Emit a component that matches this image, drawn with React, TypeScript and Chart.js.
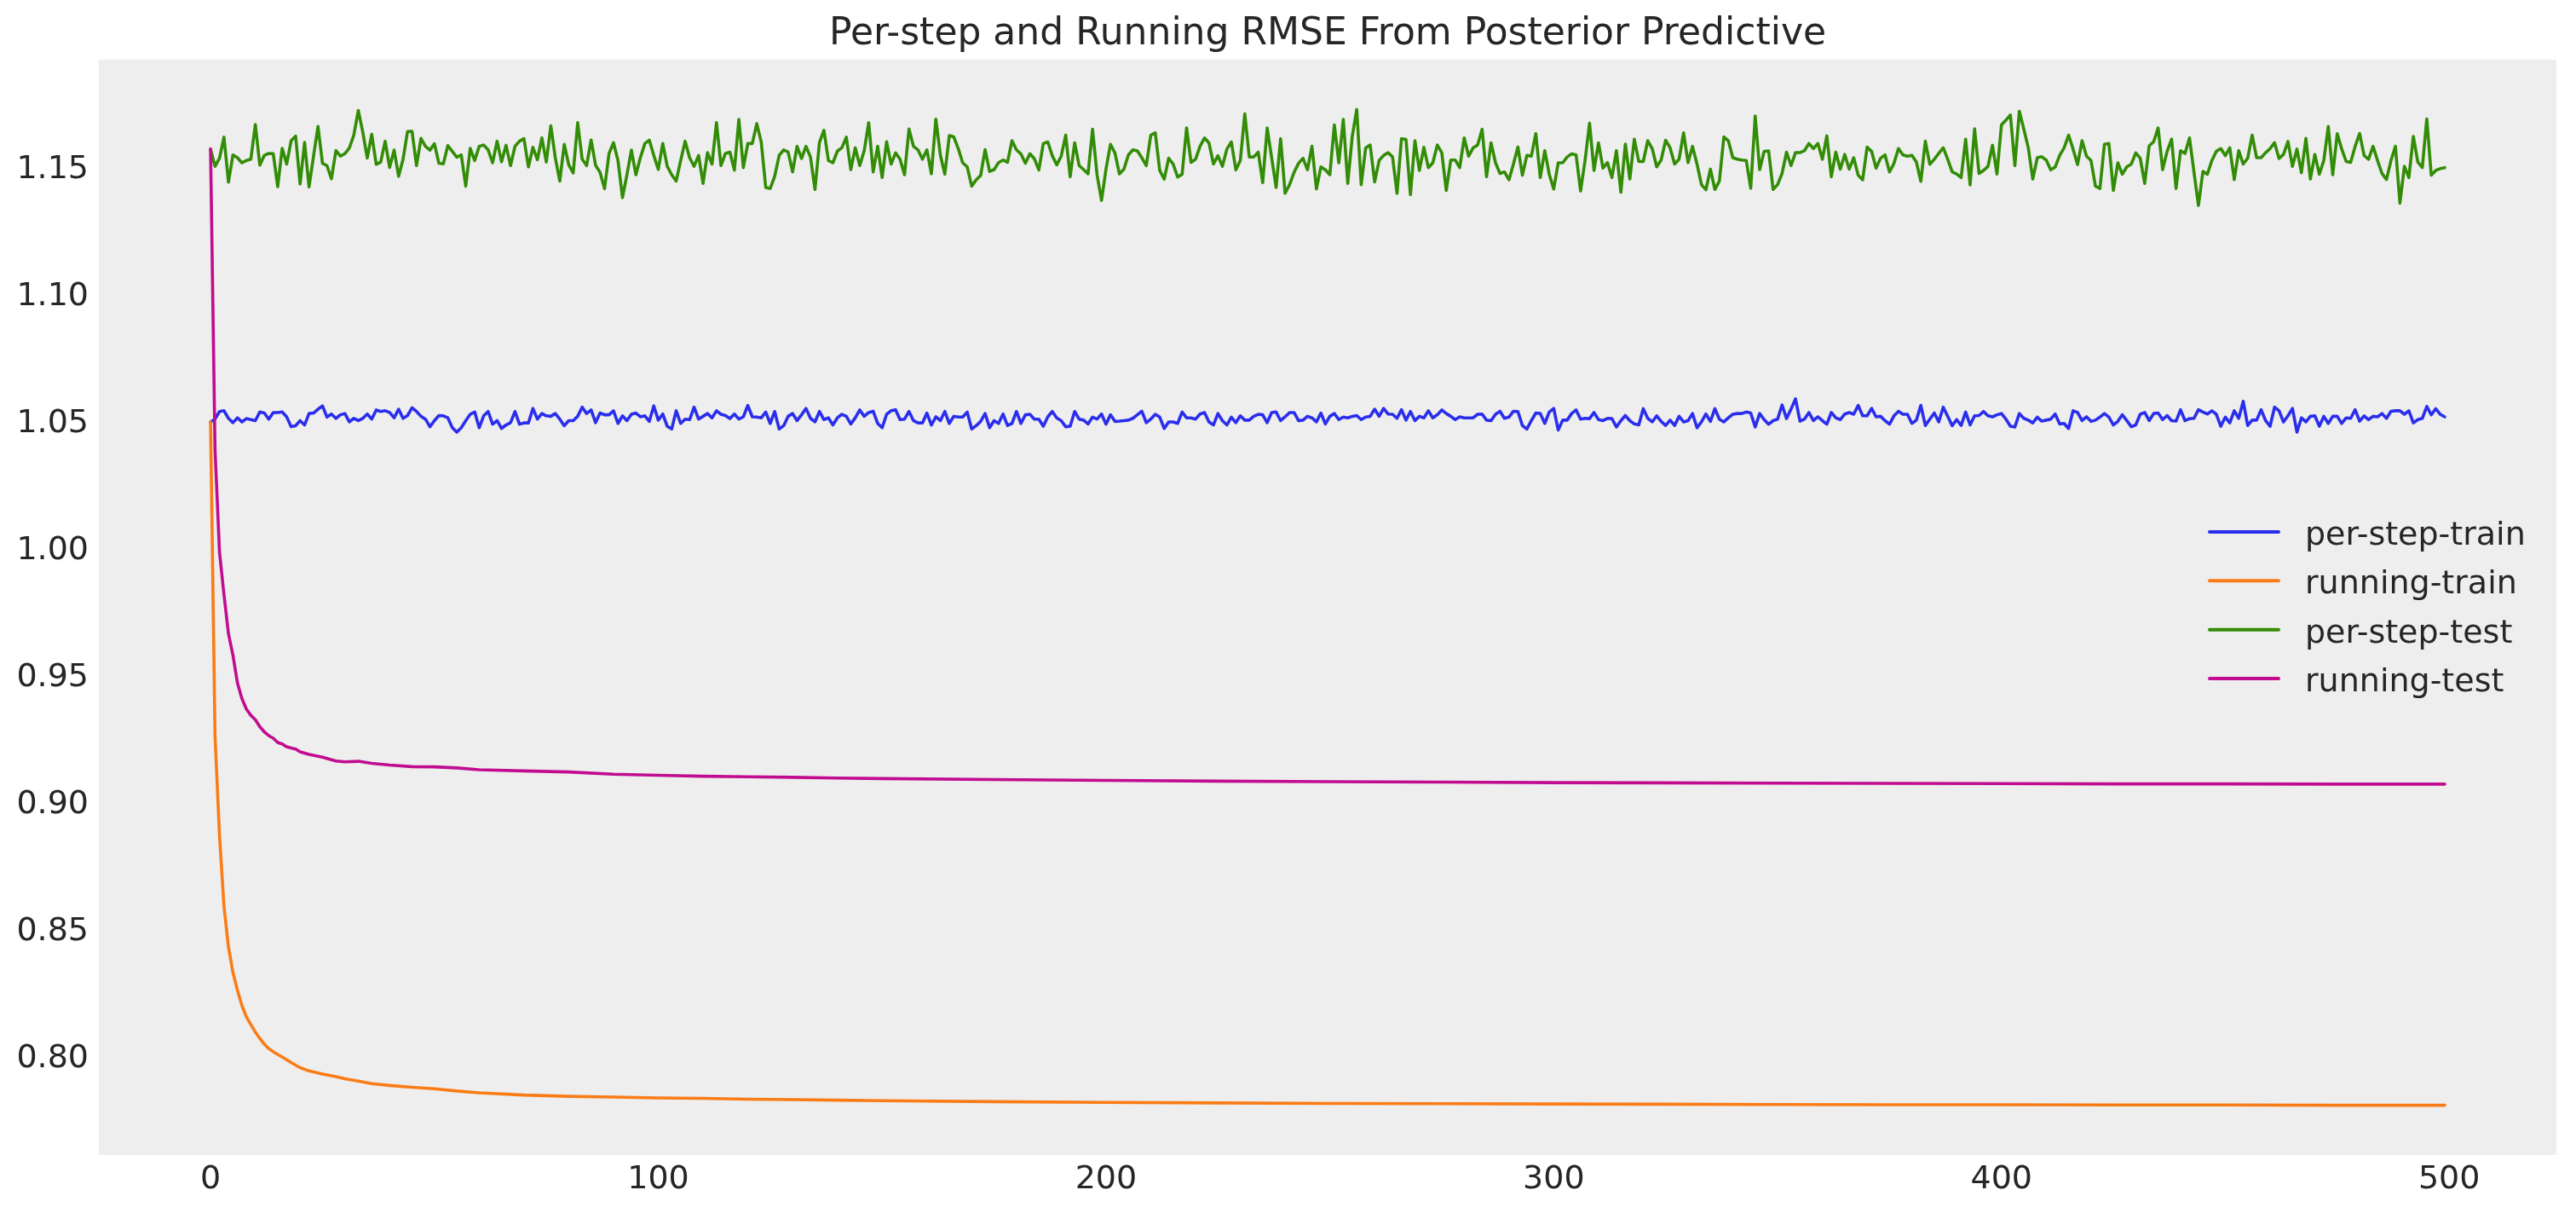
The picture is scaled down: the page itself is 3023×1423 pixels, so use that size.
import React, { useEffect, useRef } from "react";
import { Chart, registerables } from "chart.js";

Chart.register(...registerables);

const TITLE = "Per-step and Running RMSE From Posterior Predictive";
const SERIES_LABELS = ["per-step-train", "running-train", "per-step-test", "running-test"];
const SERIES_COLORS = ["#2a2eec", "#fa7c17", "#328c06", "#c10c90"];
const X_TICKS = [0, 100, 200, 300, 400, 500];
const Y_TICKS = [0.8, 0.85, 0.9, 0.95, 1.0, 1.05, 1.1, 1.15];
const X_MIN = -24.95;
const X_MAX = 523.95;
const Y_MIN = 0.7621;
const Y_MAX = 1.1933;
const TEXT_COLOR = "#262626";
const FONT = "DejaVu Sans";

// step index 0..499 (category positions)
const steps: number[] = Array.from({ length: 500 }, (_, i) => i);

const perStepTrain: number[] = [
  1.0507, 1.0518, 1.0548, 1.0551, 1.0521, 1.0504, 1.0523, 1.0507, 1.0520, 1.0516,
  1.0512, 1.0546, 1.0542, 1.0518, 1.0544, 1.0544, 1.0546, 1.0527, 1.0488, 1.0492,
  1.0512, 1.0495, 1.0540, 1.0542, 1.0557, 1.0570, 1.0526, 1.0538, 1.0521, 1.0535,
  1.0540, 1.0507, 1.0521, 1.0512, 1.0521, 1.0538, 1.0518, 1.0554, 1.0548, 1.0551,
  1.0544, 1.0523, 1.0557, 1.0521, 1.0532, 1.0563, 1.0548, 1.0529, 1.0518, 1.0488,
  1.0512, 1.0532, 1.0531, 1.0523, 1.0484, 1.0467, 1.0484, 1.0512, 1.0537, 1.0546,
  1.0484, 1.0531, 1.0548, 1.0498, 1.0512, 1.0481, 1.0495, 1.0504, 1.0548, 1.0498,
  1.0503, 1.0503, 1.0560, 1.0518, 1.0540, 1.0531, 1.0529, 1.0540, 1.0518, 1.0492,
  1.0512, 1.0512, 1.0529, 1.0565, 1.0540, 1.0554, 1.0504, 1.0542, 1.0535, 1.0535,
  1.0551, 1.0501, 1.0531, 1.0512, 1.0537, 1.0542, 1.0527, 1.0531, 1.0509, 1.0570,
  1.0514, 1.0538, 1.0490, 1.0479, 1.0551, 1.0501, 1.0518, 1.0516, 1.0565, 1.0518,
  1.0529, 1.0540, 1.0523, 1.0551, 1.0537, 1.0532, 1.0520, 1.0538, 1.0518, 1.0527,
  1.0572, 1.0527, 1.0526, 1.0523, 1.0546, 1.0501, 1.0548, 1.0479, 1.0492, 1.0529,
  1.0540, 1.0512, 1.0535, 1.0560, 1.0521, 1.0507, 1.0548, 1.0516, 1.0523, 1.0495,
  1.0523, 1.0537, 1.0529, 1.0499, 1.0523, 1.0554, 1.0529, 1.0544, 1.0549, 1.0501,
  1.0484, 1.0537, 1.0551, 1.0555, 1.0516, 1.0518, 1.0548, 1.0512, 1.0503, 1.0503,
  1.0542, 1.0495, 1.0527, 1.0512, 1.0548, 1.0501, 1.0529, 1.0526, 1.0526, 1.0546,
  1.0479, 1.0492, 1.0509, 1.0540, 1.0484, 1.0512, 1.0501, 1.0538, 1.0493, 1.0501,
  1.0548, 1.0501, 1.0535, 1.0537, 1.0518, 1.0518, 1.0490, 1.0527, 1.0548, 1.0523,
  1.0512, 1.0488, 1.0490, 1.0548, 1.0518, 1.0514, 1.0499, 1.0526, 1.0518, 1.0538,
  1.0498, 1.0535, 1.0509, 1.0510, 1.0512, 1.0514, 1.0521, 1.0535, 1.0549, 1.0504,
  1.0518, 1.0537, 1.0526, 1.0481, 1.0507, 1.0507, 1.0501, 1.0546, 1.0523, 1.0523,
  1.0518, 1.0538, 1.0544, 1.0507, 1.0495, 1.0540, 1.0512, 1.0495, 1.0526, 1.0504,
  1.0531, 1.0514, 1.0514, 1.0529, 1.0537, 1.0535, 1.0504, 1.0544, 1.0546, 1.0512,
  1.0527, 1.0544, 1.0544, 1.0512, 1.0514, 1.0529, 1.0523, 1.0507, 1.0542, 1.0499,
  1.0529, 1.0540, 1.0516, 1.0526, 1.0523, 1.0529, 1.0532, 1.0516, 1.0526, 1.0529,
  1.0557, 1.0529, 1.0560, 1.0538, 1.0537, 1.0521, 1.0555, 1.0514, 1.0548, 1.0512,
  1.0529, 1.0523, 1.0551, 1.0523, 1.0535, 1.0554, 1.0540, 1.0529, 1.0516, 1.0527,
  1.0523, 1.0523, 1.0523, 1.0537, 1.0538, 1.0514, 1.0512, 1.0537, 1.0549, 1.0521,
  1.0526, 1.0549, 1.0548, 1.0493, 1.0479, 1.0512, 1.0542, 1.0540, 1.0501, 1.0546,
  1.0560, 1.0475, 1.0514, 1.0514, 1.0540, 1.0554, 1.0518, 1.0521, 1.0520, 1.0544,
  1.0516, 1.0512, 1.0521, 1.0520, 1.0487, 1.0512, 1.0532, 1.0512, 1.0499, 1.0495,
  1.0559, 1.0521, 1.0507, 1.0531, 1.0509, 1.0493, 1.0514, 1.0493, 1.0529, 1.0507,
  1.0512, 1.0540, 1.0484, 1.0507, 1.0538, 1.0509, 1.0559, 1.0518, 1.0507, 1.0523,
  1.0537, 1.0540, 1.0540, 1.0546, 1.0542, 1.0487, 1.0540, 1.0516, 1.0498, 1.0512,
  1.0518, 1.0574, 1.0520, 1.0557, 1.0598, 1.0510, 1.0518, 1.0544, 1.0512, 1.0527,
  1.0512, 1.0498, 1.0544, 1.0523, 1.0516, 1.0538, 1.0544, 1.0537, 1.0572, 1.0531,
  1.0531, 1.0560, 1.0527, 1.0529, 1.0512, 1.0498, 1.0531, 1.0549, 1.0537, 1.0537,
  1.0501, 1.0514, 1.0572, 1.0493, 1.0518, 1.0542, 1.0507, 1.0565, 1.0529, 1.0492,
  1.0516, 1.0493, 1.0546, 1.0495, 1.0531, 1.0532, 1.0548, 1.0531, 1.0527, 1.0535,
  1.0540, 1.0518, 1.0490, 1.0487, 1.0540, 1.0521, 1.0514, 1.0503, 1.0526, 1.0510,
  1.0514, 1.0518, 1.0538, 1.0499, 1.0501, 1.0481, 1.0551, 1.0544, 1.0512, 1.0527,
  1.0509, 1.0514, 1.0526, 1.0540, 1.0526, 1.0495, 1.0509, 1.0535, 1.0512, 1.0488,
  1.0495, 1.0537, 1.0544, 1.0512, 1.0540, 1.0542, 1.0516, 1.0532, 1.0512, 1.0510,
  1.0555, 1.0512, 1.0520, 1.0521, 1.0555, 1.0546, 1.0538, 1.0551, 1.0537, 1.0490,
  1.0526, 1.0503, 1.0551, 1.0521, 1.0588, 1.0493, 1.0514, 1.0514, 1.0555, 1.0512,
  1.0490, 1.0565, 1.0551, 1.0507, 1.0531, 1.0560, 1.0467, 1.0523, 1.0507, 1.0529,
  1.0531, 1.0490, 1.0529, 1.0501, 1.0529, 1.0529, 1.0501, 1.0523, 1.0521, 1.0555,
  1.0510, 1.0531, 1.0516, 1.0529, 1.0527, 1.0540, 1.0521, 1.0549, 1.0551, 1.0551,
  1.0537, 1.0551, 1.0503, 1.0516, 1.0521, 1.0568, 1.0535, 1.0559, 1.0537, 1.0527,
];

const perStepTest: number[] = [
  1.1581, 1.1513, 1.1545, 1.1628, 1.1451, 1.1558, 1.1547, 1.1527, 1.1536, 1.1541,
  1.1678, 1.1518, 1.1556, 1.1564, 1.1563, 1.1433, 1.1584, 1.1522, 1.1614, 1.1632,
  1.1444, 1.1607, 1.1432, 1.1553, 1.1670, 1.1525, 1.1516, 1.1464, 1.1575, 1.1553,
  1.1563, 1.1585, 1.1636, 1.1733, 1.1648, 1.1546, 1.1639, 1.1521, 1.1530, 1.1612,
  1.1509, 1.1577, 1.1474, 1.1541, 1.1650, 1.1651, 1.1516, 1.1623, 1.1592, 1.1577,
  1.1602, 1.1525, 1.1523, 1.1595, 1.1572, 1.1549, 1.1558, 1.1435, 1.1584, 1.1536,
  1.1592, 1.1597, 1.1578, 1.1527, 1.1612, 1.1531, 1.1596, 1.1516, 1.1592, 1.1612,
  1.1622, 1.1511, 1.1588, 1.1539, 1.1625, 1.1530, 1.1673, 1.1547, 1.1455, 1.1600,
  1.1519, 1.1487, 1.1685, 1.1541, 1.1516, 1.1617, 1.1517, 1.1489, 1.1425, 1.1564,
  1.1606, 1.1536, 1.1390, 1.1480, 1.1577, 1.1480, 1.1547, 1.1603, 1.1616, 1.1556,
  1.1501, 1.1603, 1.1513, 1.1480, 1.1455, 1.1536, 1.1612, 1.1547, 1.1513, 1.1556,
  1.1446, 1.1567, 1.1522, 1.1685, 1.1516, 1.1564, 1.1569, 1.1498, 1.1698, 1.1508,
  1.1603, 1.1603, 1.1681, 1.1609, 1.1430, 1.1426, 1.1474, 1.1556, 1.1578, 1.1569,
  1.1491, 1.1592, 1.1544, 1.1592, 1.1549, 1.1422, 1.1607, 1.1655, 1.1536, 1.1527,
  1.1573, 1.1586, 1.1628, 1.1500, 1.1586, 1.1516, 1.1575, 1.1685, 1.1491, 1.1592,
  1.1469, 1.1610, 1.1522, 1.1566, 1.1541, 1.1480, 1.1660, 1.1592, 1.1578, 1.1541,
  1.1578, 1.1484, 1.1699, 1.1558, 1.1482, 1.1634, 1.1629, 1.1583, 1.1527, 1.1511,
  1.1435, 1.1460, 1.1477, 1.1579, 1.1493, 1.1500, 1.1528, 1.1538, 1.1529, 1.1614,
  1.1578, 1.1562, 1.1525, 1.1563, 1.1543, 1.1499, 1.1603, 1.1609, 1.1555, 1.1519,
  1.1553, 1.1636, 1.1472, 1.1606, 1.1516, 1.1500, 1.1484, 1.1659, 1.1480, 1.1379,
  1.1502, 1.1600, 1.1566, 1.1483, 1.1502, 1.1558, 1.1578, 1.1574, 1.1547, 1.1516,
  1.1636, 1.1645, 1.1497, 1.1463, 1.1545, 1.1522, 1.1471, 1.1482, 1.1664, 1.1529,
  1.1541, 1.1592, 1.1625, 1.1605, 1.1522, 1.1555, 1.1513, 1.1581, 1.1609, 1.1499,
  1.1536, 1.1720, 1.1550, 1.1550, 1.1569, 1.1449, 1.1664, 1.1547, 1.1430, 1.1622,
  1.1407, 1.1441, 1.1489, 1.1525, 1.1545, 1.1500, 1.1592, 1.1424, 1.1511, 1.1499,
  1.1480, 1.1676, 1.1527, 1.1698, 1.1446, 1.1631, 1.1737, 1.1441, 1.1586, 1.1597,
  1.1452, 1.1536, 1.1556, 1.1567, 1.1550, 1.1407, 1.1622, 1.1619, 1.1402, 1.1614,
  1.1497, 1.1588, 1.1508, 1.1527, 1.1597, 1.1567, 1.1418, 1.1538, 1.1538, 1.1508,
  1.1625, 1.1553, 1.1586, 1.1597, 1.1659, 1.1472, 1.1606, 1.1527, 1.1485, 1.1491,
  1.1460, 1.1522, 1.1589, 1.1478, 1.1556, 1.1553, 1.1642, 1.1469, 1.1575, 1.1482,
  1.1424, 1.1527, 1.1527, 1.1550, 1.1562, 1.1558, 1.1416, 1.1536, 1.1683, 1.1497,
  1.1606, 1.1506, 1.1528, 1.1469, 1.1575, 1.1411, 1.1601, 1.1463, 1.1620, 1.1532,
  1.1532, 1.1614, 1.1583, 1.1511, 1.1538, 1.1616, 1.1586, 1.1522, 1.1541, 1.1645,
  1.1528, 1.1592, 1.1522, 1.1441, 1.1421, 1.1502, 1.1422, 1.1455, 1.1629, 1.1614,
  1.1547, 1.1541, 1.1538, 1.1536, 1.1427, 1.1711, 1.1500, 1.1572, 1.1574, 1.1422,
  1.1441, 1.1485, 1.1569, 1.1516, 1.1567, 1.1567, 1.1575, 1.1603, 1.1583, 1.1603,
  1.1541, 1.1633, 1.1472, 1.1569, 1.1502, 1.1560, 1.1502, 1.1547, 1.1478, 1.1460,
  1.1589, 1.1572, 1.1506, 1.1545, 1.1558, 1.1491, 1.1525, 1.1583, 1.1558, 1.1553,
  1.1556, 1.1530, 1.1454, 1.1612, 1.1521, 1.1541, 1.1564, 1.1586, 1.1541, 1.1491,
  1.1483, 1.1469, 1.1620, 1.1440, 1.1661, 1.1485, 1.1497, 1.1513, 1.1596, 1.1483,
  1.1676, 1.1695, 1.1715, 1.1516, 1.1730, 1.1659, 1.1586, 1.1463, 1.1547, 1.1551,
  1.1538, 1.1499, 1.1510, 1.1556, 1.1586, 1.1636, 1.1581, 1.1520, 1.1614, 1.1553,
  1.1536, 1.1435, 1.1426, 1.1600, 1.1603, 1.1418, 1.1527, 1.1482, 1.1511, 1.1522,
  1.1566, 1.1545, 1.1446, 1.1594, 1.1610, 1.1664, 1.1500, 1.1572, 1.1620, 1.1426,
  1.1575, 1.1564, 1.1625, 1.1491, 1.1359, 1.1493, 1.1482, 1.1536, 1.1572, 1.1583,
  1.1555, 1.1586, 1.1461, 1.1575, 1.1522, 1.1545, 1.1636, 1.1547, 1.1547, 1.1567,
  1.1583, 1.1606, 1.1544, 1.1560, 1.1611, 1.1513, 1.1581, 1.1488, 1.1623, 1.1463,
  1.1560, 1.1482, 1.1536, 1.1670, 1.1480, 1.1642, 1.1581, 1.1532, 1.1529, 1.1592,
  1.1642, 1.1556, 1.1541, 1.1592, 1.1536, 1.1485, 1.1461, 1.1536, 1.1592, 1.1368,
  1.1513, 1.1469, 1.1631, 1.1530, 1.1508, 1.1700, 1.1478, 1.1497, 1.1504, 1.1508,
];

// running curves, read at these step indices
const runningSteps: number[] = [
  0, 1, 2, 3, 4, 5, 6, 7, 8, 9, 10, 11, 12, 13, 14, 15, 16, 17, 18, 19, 20, 22, 25, 28, 30,
  33, 36, 40, 45, 50, 55, 60, 70, 80, 90, 100, 110, 120, 130, 140, 150, 175, 200, 225, 250,
  275, 300, 325, 350, 375, 400, 425, 450, 475, 499,
];

const runningTrain: number[] = [
  1.0507, 0.927, 0.888, 0.86, 0.844, 0.834, 0.827, 0.821, 0.8165, 0.8135, 0.8105, 0.808,
  0.8058, 0.804, 0.8028, 0.8017, 0.8007, 0.7996, 0.7985, 0.7975, 0.7965, 0.7952, 0.794,
  0.793, 0.7921, 0.7912, 0.7902, 0.7895, 0.7888, 0.7882, 0.7873, 0.7866, 0.7857, 0.7852,
  0.7849, 0.7846, 0.7844, 0.7841, 0.7839, 0.7837, 0.7835, 0.7831, 0.7828, 0.7826, 0.7824,
  0.7823, 0.7822, 0.7821, 0.782, 0.7819, 0.7819, 0.7818, 0.7818, 0.7817, 0.7817,
];

const runningTest: number[] = [
  1.1581, 1.0398, 0.9994, 0.9827, 0.9673, 0.9589, 0.948, 0.9418, 0.9377, 0.9352, 0.9335,
  0.9307, 0.9287, 0.9272, 0.9262, 0.9245, 0.9239, 0.9228, 0.9223, 0.9219, 0.9208, 0.9198,
  0.9187, 0.9172, 0.9169, 0.9171, 0.9163, 0.9156, 0.915, 0.9149, 0.9145, 0.9138, 0.9133,
  0.9129, 0.912, 0.9116, 0.9112, 0.911, 0.9108, 0.9105, 0.9103, 0.9099, 0.9096, 0.9093,
  0.9091, 0.9089, 0.9087, 0.9086, 0.9085, 0.9084, 0.9083, 0.9082, 0.9082, 0.9081, 0.9081,
];

const toPoints = (xs: number[], ys: number[]) => ys.map((y, i) => ({ x: xs[i], y }));

const bgPlugin = {
  id: "bgPlugin",
  beforeDraw(chart: any) {
    const { ctx, chartArea, width, height } = chart;
    ctx.save();
    ctx.fillStyle = "#ffffff";
    ctx.fillRect(0, 0, width, height);
    ctx.fillStyle = "#eeeeee";
    ctx.fillRect(chartArea.left, chartArea.top, chartArea.right - chartArea.left, chartArea.bottom - chartArea.top);
    ctx.restore();
  },
};

const sideLegendPlugin = {
  id: "sideLegend",
  afterDatasetsDraw(chart: any) {
    const { ctx, chartArea } = chart;
    const cy = (chartArea.top + chartArea.bottom) / 2 - 2.5;
    const x0 = chartArea.right - 407;
    ctx.save();
    chart.data.datasets.forEach((ds: any, k: number) => {
      const y = cy + (k - 1.5) * 57.3;
      ctx.strokeStyle = ds.borderColor;
      ctx.lineWidth = 4;
      ctx.lineCap = "round";
      ctx.beginPath();
      ctx.moveTo(x0, y);
      ctx.lineTo(x0 + 81, y);
      ctx.stroke();
      ctx.fillStyle = TEXT_COLOR;
      ctx.font = `38px "${FONT}"`;
      ctx.textAlign = "left";
      ctx.textBaseline = "alphabetic";
      ctx.fillText(ds.label, x0 + 112, y + 15);
    });
    ctx.restore();
  },
};

export default function App() {
  const canvasRef = useRef<HTMLCanvasElement | null>(null);

  useEffect(() => {
    document.body.style.margin = "0";
    document.body.style.overflow = "hidden";
    const canvas = canvasRef.current;
    if (!canvas) return;
    const seriesData = [
      toPoints(steps, perStepTrain),
      toPoints(runningSteps, runningTrain),
      toPoints(steps, perStepTest),
      toPoints(runningSteps, runningTest),
    ];
    const tickFont = { family: FONT, size: 38, lineHeight: 1.2 };
    const chart = new Chart(canvas, {
      type: "line",
      data: {
        datasets: seriesData.map((d, i) => ({
          label: SERIES_LABELS[i],
          data: d,
          borderColor: SERIES_COLORS[i],
          backgroundColor: SERIES_COLORS[i],
          borderWidth: 3.6,
          borderCapStyle: "round",
          borderJoinStyle: "round",
          pointRadius: 0,
          tension: 0,
          fill: false,
          order: 3 - i,
        })),
      },
      options: {
        responsive: false,
        animation: false,
        devicePixelRatio: 1,
        parsing: false,
        normalized: true,
        layout: { padding: { left: 0, right: 23, top: 0, bottom: 0 } },
        plugins: {
          legend: { display: false },
          tooltip: { enabled: false },
          title: {
            display: true,
            fullSize: false,
            text: TITLE,
            color: TEXT_COLOR,
            font: { family: FONT, size: 44, weight: "normal", lineHeight: 1 },
            padding: { top: 19, bottom: 7 },
          },
        },
        scales: {
          x: {
            type: "linear",
            min: X_MIN,
            max: X_MAX,
            grid: { display: false, drawTicks: false },
            border: { display: false },
            afterBuildTicks: (s: any) => {
              s.ticks = X_TICKS.map((v) => ({ value: v }));
            },
            afterFit: (s: any) => {
              s.height = 68;
            },
            ticks: {
              padding: 6,
              color: TEXT_COLOR,
              font: tickFont,
              maxRotation: 0,
              autoSkip: false,
              callback: (v: any) => String(v),
            },
          },
          y: {
            type: "linear",
            min: Y_MIN,
            max: Y_MAX,
            grid: { display: false, drawTicks: false },
            border: { display: false },
            afterBuildTicks: (s: any) => {
              s.ticks = Y_TICKS.map((v) => ({ value: v }));
            },
            afterFit: (s: any) => {
              s.width = 116;
            },
            ticks: {
              padding: 12,
              color: TEXT_COLOR,
              font: tickFont,
              autoSkip: false,
              callback: (v: any) => Number(v).toFixed(2),
            },
          },
        },
      } as any,
      plugins: [bgPlugin, sideLegendPlugin],
    });
    return () => chart.destroy();
  }, []);

  return (
    <div style={{ width: 3023, height: 1423, position: "relative" }}>
      <canvas ref={canvasRef} width={3023} height={1423} style={{ display: "block", width: 3023, height: 1423 }} />
    </div>
  );
}
